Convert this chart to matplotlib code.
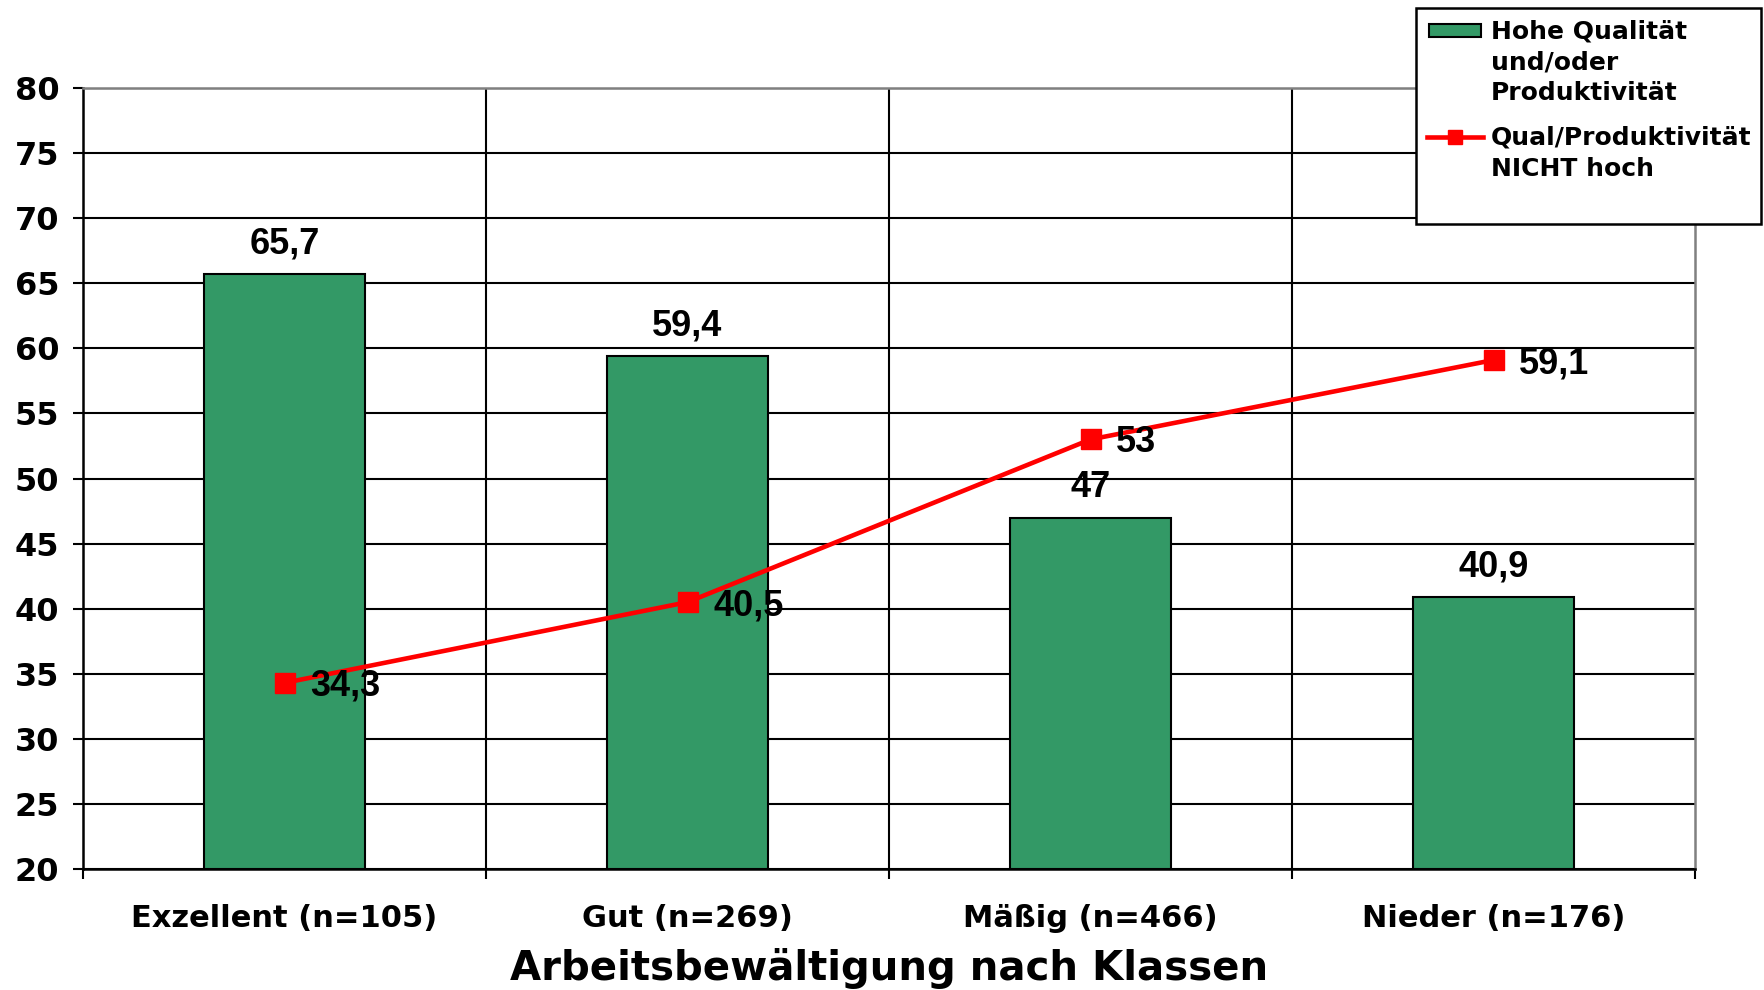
import matplotlib
matplotlib.use("Agg")
import matplotlib.pyplot as plt
from matplotlib.patches import Rectangle
from matplotlib.lines import Line2D

categories = ["Exzellent (n=105)", "Gut (n=269)", "Mäßig (n=466)", "Nieder (n=176)"]
bar_values = [65.7, 59.4, 47.0, 40.9]
line_values = [34.3, 40.5, 53.0, 59.1]
bar_labels = ["65,7", "59,4", "47", "40,9"]
line_labels = ["34,3", "40,5", "53", "59,1"]
yticks = [20, 25, 30, 35, 40, 45, 50, 55, 60, 65, 70, 75, 80]
series_names = [["Hohe Qualität", "und/oder", "Produktivität"],
                ["Qual/Produktivität", "NICHT hoch"]]
xlabel = "Arbeitsbewältigung nach Klassen"

GREEN = "#339966"
RED = "#FF0000"
W, H = 1764, 990

fig = plt.figure(figsize=(W / 100, H / 100), dpi=100)
ax = fig.add_axes([83 / W, 1 - 869 / H, (1695 - 83) / W, (869 - 88) / H])

x = list(range(len(categories)))
ax.bar(x, [v - 20 for v in bar_values], bottom=20, width=0.4, color=GREEN,
       edgecolor="black", linewidth=1.5, zorder=3)
ax.plot(x, line_values, color=RED, linewidth=3.3, marker="s", markersize=15,
        zorder=4)

for xi, v, lab in zip(x, bar_values, bar_labels):
    ax.text(xi, v + 1.6, lab, ha="center", va="baseline", fontsize=26,
            fontweight="bold", family="Liberation Sans", zorder=5)
for xi, v, lab in zip(x, line_values, line_labels):
    ax.text(xi + 0.064, v - 1.0, lab, ha="left", va="baseline", fontsize=26,
            fontweight="bold", family="Liberation Sans", zorder=5)

ax.set_xlim(-0.5, 3.5)
ax.set_ylim(20, 80)
ax.set_yticks(yticks)
ax.set_yticklabels([str(t) for t in yticks], fontsize=23, fontweight="bold")
ax.yaxis.grid(True, color="black", linewidth=1.5, zorder=0)
ax.set_axisbelow(True)

bounds = [-0.5, 0.5, 1.5, 2.5, 3.5]
ax.set_xticks(bounds)
ax.set_xticklabels([""] * len(bounds))
ax.set_xticks(x, minor=True)
ax.set_xticklabels(categories, minor=True, fontsize=22, fontweight="bold")
ax.tick_params(axis="x", which="minor", length=0, pad=25)
ax.tick_params(axis="x", which="major", length=7, width=1.5, direction="out", color="black")
ax.tick_params(axis="y", length=7, width=1.5, direction="out", pad=10)
for b in bounds[1:-1]:
    ax.axvline(b, color="black", linewidth=1.5, zorder=1)

for s in ["left", "bottom"]:
    ax.spines[s].set_color("black")
    ax.spines[s].set_linewidth(1.8)
for s in ["top", "right"]:
    ax.spines[s].set_color("#808080")
    ax.spines[s].set_linewidth(1.8)

ax.set_xlabel(xlabel, fontsize=29, fontweight="bold", labelpad=11)

def fx(px):
    return px / W

def fy(py):
    return 1 - py / H

fig.patches.append(Rectangle((fx(1416), fy(224)), fx(1761) - fx(1416), fy(8) - fy(224),
                             transform=fig.transFigure, facecolor="white",
                             edgecolor="black", linewidth=1.8, zorder=10))
fig.patches.append(Rectangle((fx(1429), fy(37)), fx(1481) - fx(1429), fy(24) - fy(37),
                             transform=fig.transFigure, facecolor=GREEN,
                             edgecolor="black", linewidth=1.5, zorder=11))
fig.lines.append(Line2D([fx(1427), fx(1483)], [fy(137), fy(137)], transform=fig.transFigure,
                        color=RED, linewidth=3.3, zorder=11))
fig.lines.append(Line2D([fx(1455)], [fy(137)], transform=fig.transFigure,
                        color=RED, linestyle="none", marker="s", markersize=10, zorder=12))
line_centers = [[31.5, 62, 93], [137, 169]]
for names, centers in zip(series_names, line_centers):
    for name, cy in zip(names, centers):
        fig.text(fx(1491), fy(cy), name, ha="left", va="center", fontsize=18,
                 fontweight="bold", zorder=12)

fig.savefig("out.png", dpi=100)
